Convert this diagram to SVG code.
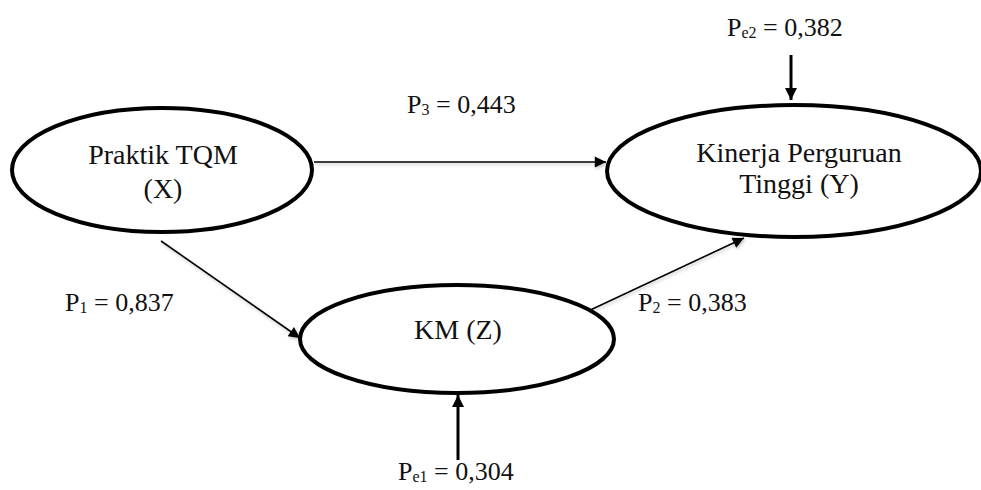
<svg xmlns="http://www.w3.org/2000/svg" width="981" height="490" viewBox="0 0 981 490">
<style>
  .node { fill: #ffffff; stroke: #000000; stroke-width: 4; }
  .lbl { text-anchor: middle; font-size: 28px; }
  .sub { font-size: 16px; }
  .edge { stroke: #000000; stroke-width: 1.6; fill: none; marker-end: url(#ah); filter: url(#sh); }
  .err { stroke: #000000; stroke-width: 3; fill: none; marker-end: url(#ahb); }
</style>
<defs>
  <marker id="ah" viewBox="0 0 10 10" refX="10" refY="5" markerWidth="8" markerHeight="7" markerUnits="strokeWidth" orient="auto">
    <path d="M0,0 L10,5 L0,10 z" fill="#000"/>
  </marker>
  <marker id="ahb" viewBox="0 0 10 10" refX="10" refY="5" markerWidth="4.5" markerHeight="4" markerUnits="strokeWidth" orient="auto">
    <path d="M0,0 L10,5 L0,10 z" fill="#000"/>
  </marker>
  <filter id="sh" filterUnits="userSpaceOnUse" x="0" y="0" width="981" height="490">
    <feDropShadow dx="1" dy="2" stdDeviation="1.5" flood-color="#000" flood-opacity="0.22"/>
  </filter>
</defs>
<rect width="981" height="490" fill="#ffffff"/>

<g id="connectors">
  <line class="edge" x1="314" y1="162" x2="606" y2="162"/>
  <line class="edge" x1="161" y1="241" x2="300" y2="338"/>
  <line class="edge" x1="537" y1="335" x2="744" y2="238"/>
  <line class="err" x1="791" y1="55" x2="791" y2="100"/>
  <line class="err" x1="458" y1="460" x2="458" y2="395"/>
</g>

<g font-family="Liberation Serif, Times New Roman, serif" font-size="26" fill="#111111">
<g id="node-x">
  <ellipse class="node" cx="162" cy="170" rx="150" ry="62"/>
  <text class="lbl" x="163" y="164">Praktik TQM</text>
  <text class="lbl" x="163" y="198">(X)</text>
</g>

<g id="node-y">
  <ellipse class="node" cx="794" cy="171" rx="187" ry="66"/>
  <text class="lbl" x="799" y="162">Kinerja Perguruan</text>
  <text class="lbl" x="799" y="193">Tinggi (Y)</text>
</g>

<g id="node-z">
  <ellipse class="node" cx="457" cy="339" rx="157" ry="54"/>
  <text class="lbl" x="458" y="339">KM (Z)</text>
</g>

<g id="labels">
  <text x="407" y="113">P<tspan class="sub" dy="2">3</tspan><tspan dy="-2"> = 0,443</tspan></text>
  <text x="727" y="36">P<tspan class="sub" dy="2">e2</tspan><tspan dy="-2"> = 0,382</tspan></text>
  <text x="65" y="311">P<tspan class="sub" dy="2">1</tspan><tspan dy="-2"> = 0,837</tspan></text>
  <text x="638" y="311">P<tspan class="sub" dy="2">2</tspan><tspan dy="-2"> = 0,383</tspan></text>
  <text x="398" y="480">P<tspan class="sub" dy="2">e1</tspan><tspan dy="-2"> = 0,304</tspan></text>
</g>
</g>
</svg>
